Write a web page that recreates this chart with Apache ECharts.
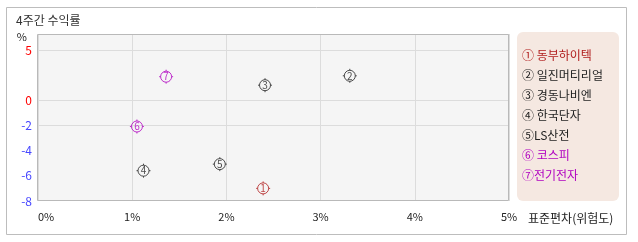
<!DOCTYPE html>
<html>
<head>
<meta charset="utf-8">
<script src="https://cdn.jsdelivr.net/npm/echarts@6/dist/echarts.min.js"></script>
<style>
html,body{margin:0;padding:0;background:#fff;}
#chart{width:638px;height:242px;}
</style>
</head>
<body>
<div id="chart"></div>
<script>
// ---- data ----
var titleText = '4주간 수익률';
var marks = ['①', '②', '③', '④', '⑤', '⑥', '⑦'];
var names = ['동부하이텍', '일진머티리얼', '경동나비엔', '한국단자', 'LS산전', '코스피', '전기전자'];
var legendSep = [' ', ' ', ' ', ' ', '', ' ', ''];
var risk = [2.39, 3.31, 2.41, 1.12, 1.93, 1.05, 1.36];      // 표준편차 (%)
var returns = [-7.0, 2.42, 1.48, -5.6, -5.08, -2.1, 2.33];  // 4주간 수익률 (%)
var colors = ['#b01c1c', '#222222', '#222222', '#222222', '#222222', '#b000c0', '#b000c0'];
var xTicks = [0, 1, 2, 3, 4, 5];
var yPosTicks = [0, 5];
var yNegTicks = [-8, -6, -4, -2];
var xName = '표준편차(위험도)';
var yName = '%';

var FONT = '"Noto Sans CJK KR", "Noto Sans", sans-serif';
var markerPath = 'path://M1.5 7 A5.5 5.5 0 1 1 12.5 7 A5.5 5.5 0 1 1 1.5 7 Z M7 0 L7 1.5 M7 12.5 L7 14 M0 7 L1.5 7 M12.5 7 L14 7';

var chart = echarts.init(document.getElementById('chart'), null, {renderer: 'canvas'});

var series = names.map(function (n, i) {
  var neg = returns[i] < 0;
  return {
    type: 'scatter',
    name: marks[i] + legendSep[i] + n,
    xAxisIndex: neg ? 1 : 0,
    yAxisIndex: neg ? 1 : 0,
    symbol: markerPath,
    symbolSize: 14,
    symbolKeepAspect: true,
    itemStyle: {color: 'rgba(0,0,0,0)', borderColor: colors[i], borderWidth: 1},
    label: {
      show: true, position: 'inside', formatter: String(i + 1),
      color: colors[i], fontSize: 10, fontFamily: FONT
    },
    emphasis: {disabled: true},
    data: [[risk[i], returns[i]]]
  };
});

var xCommon = {
  type: 'value', min: xTicks[0], max: xTicks[xTicks.length - 1], interval: 1,
  axisLine: {show: false, onZero: false}, axisTick: {show: false},
  splitLine: {show: true, lineStyle: {color: '#dcdcdc'}}
};

var option = {
  animation: false,
  textStyle: {fontFamily: FONT},
  title: {
    text: titleText, left: 16, top: 14, padding: 0,
    textStyle: {fontSize: 12, fontWeight: 'normal', color: '#333', fontFamily: FONT}
  },
  graphic: [
    {type: 'rect', z: 0, shape: {x: 6.5, y: 7.5, width: 620, height: 227},
     style: {fill: 'none', stroke: '#bdbdbd', lineWidth: 1}},
    {type: 'rect', z: 0, shape: {x: 517, y: 32, width: 102, height: 169, r: 6},
     style: {fill: '#f5e8e1'}},
    {type: 'rect', z: 5, shape: {x: 37.5, y: 34.5, width: 471, height: 166},
     style: {fill: 'none', stroke: '#b9b9b9', lineWidth: 1}}
  ],
  legend: {
    orient: 'vertical', left: 517, top: 48, padding: 0,
    icon: 'none', itemWidth: 0, itemHeight: 14, itemGap: 7,
    selectedMode: false,
    textStyle: {fontSize: 12, fontFamily: FONT},
    data: names.map(function (n, i) {
      return {name: marks[i] + legendSep[i] + n, textStyle: {color: colors[i]}};
    })
  },
  grid: [
    {left: 38, right: 129, top: 34, bottom: 142, show: true, backgroundColor: '#f5f5f5', borderWidth: 0},
    {left: 38, right: 129, top: 100, bottom: 41, show: true, backgroundColor: '#f5f5f5', borderWidth: 0}
  ],
  xAxis: [
    Object.assign({}, xCommon, {gridIndex: 0, axisLabel: {show: false}}),
    Object.assign({}, xCommon, {
      gridIndex: 1, position: 'bottom',
      axisLabel: {show: true, margin: 10, fontSize: 11, color: '#222', fontFamily: FONT,
        formatter: '{value}%', alignMinLabel: 'left'},
      name: xName, nameLocation: 'end', nameGap: 19,
      nameTextStyle: {fontSize: 12, color: '#222', align: 'left', verticalAlign: 'top',
        padding: [11, 0, 0, 0], fontFamily: FONT}
    })
  ],
  yAxis: [
    {
      type: 'value', gridIndex: 0, min: yPosTicks[0], max: 6.6, interval: 5,
      axisLine: {show: false}, axisTick: {show: false},
      splitLine: {show: true, lineStyle: {color: '#dcdcdc'}},
      axisLabel: {show: true, margin: 6, fontSize: 12, color: '#ff0000', showMaxLabel: false, fontFamily: FONT},
      name: yName, nameLocation: 'end', nameGap: -3,
      nameTextStyle: {fontSize: 11, color: '#222', align: 'right', verticalAlign: 'middle',
        padding: [0, 11, 0, 0], fontFamily: FONT}
    },
    {
      type: 'value', gridIndex: 1, min: yNegTicks[0], max: 0, interval: 2,
      axisLine: {show: false}, axisTick: {show: false},
      splitLine: {show: true, lineStyle: {color: ['rgba(0,0,0,0)', 'rgba(0,0,0,0)', 'rgba(0,0,0,0)', '#dcdcdc', 'rgba(0,0,0,0)']}},
      axisLabel: {show: true, margin: 6, fontSize: 12, color: '#4646ff', showMaxLabel: false, fontFamily: FONT}
    }
  ],
  series: series
};
chart.setOption(option);
</script>
</body>
</html>
